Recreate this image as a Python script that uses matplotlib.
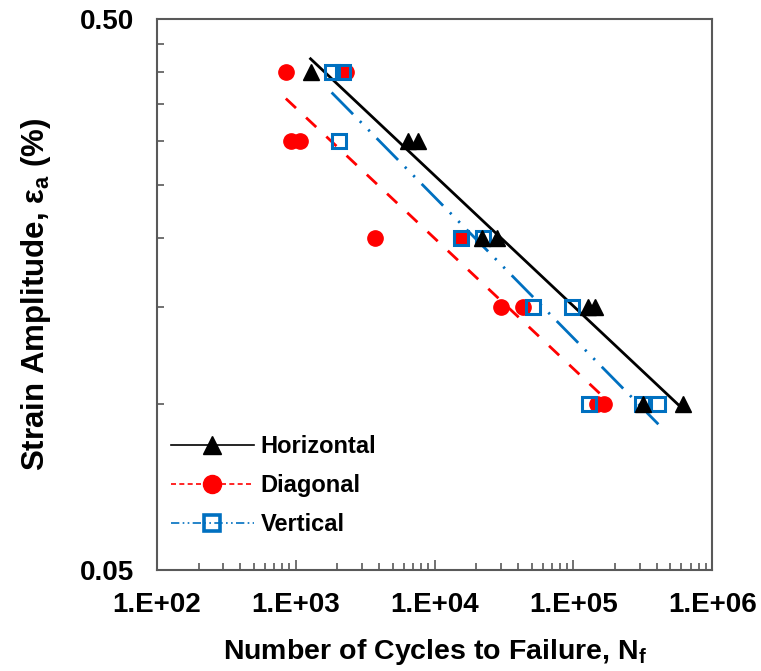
import numpy as np
import matplotlib
matplotlib.use("Agg")
import matplotlib.pyplot as plt
from matplotlib.lines import Line2D
from matplotlib.ticker import FixedLocator, NullFormatter, FuncFormatter

plt.rcParams['font.family'] = ['Liberation Sans', 'DejaVu Sans']
plt.rcParams['font.weight'] = 'bold'

# cycles to failure / strain amplitude (%)
horiz_N = [1280, 6400, 7550, 22100, 28400, 128000, 144000, 319000, 618000]
horiz_e = [0.40, 0.30, 0.30, 0.20, 0.20, 0.15, 0.15, 0.10, 0.10]

diag_N = [850, 2290, 920, 1070, 3700, 15400, 29900, 43700, 149000, 167000]
diag_e = [0.40, 0.40, 0.30, 0.30, 0.20, 0.20, 0.15, 0.15, 0.10, 0.10]

vert_N = [1815, 2180, 2040, 15400, 22500, 51500, 98400, 130000, 314000, 409000]
vert_e = [0.40, 0.40, 0.30, 0.20, 0.20, 0.15, 0.15, 0.10, 0.10, 0.10]

labels = ["Horizontal", "Diagonal", "Vertical"]
x_ticks = [1e2, 1e3, 1e4, 1e5, 1e6]
y_ticks = [0.05, 0.5]


def power_fit(N, e):
    # excel style power trendline y = a*x^b over the data range
    lx, ly = np.log10(N), np.log10(e)
    b, a = np.polyfit(lx, ly, 1)
    xs = np.array([min(N), max(N)])
    return xs, 10 ** (a + b * np.log10(xs))


fig = plt.figure(figsize=(7.61, 6.71), dpi=100)
ax = fig.add_axes([0.206, 0.151, 0.730, 0.821])

red = "#FF0000"
blue = "#0070C0"

# trendlines
xs, ys = power_fit(diag_N, diag_e)
ax.plot(xs, ys, color=red, lw=2.0, dashes=(5, 5), zorder=2)
xs, ys = power_fit(vert_N, vert_e)
ax.plot(xs, ys, color=blue, lw=2.0, dashes=(11, 3.5, 0.8, 3.5, 0.8, 3.5), zorder=2)
xs, ys = power_fit(horiz_N, horiz_e)
ax.plot(xs, ys, color="black", lw=2.0, zorder=2)

# markers
ax.plot(diag_N, diag_e, "o", color=red, ms=11, mec=red, zorder=3)
ax.plot(vert_N, vert_e, "s", mfc="none", mec=blue, mew=2.2, ms=10.5, zorder=4)
ax.plot(horiz_N, horiz_e, "^", color="black", ms=11.5, zorder=5)

ax.set_xscale("log")
ax.set_yscale("log")
ax.set_xlim(1e2, 1e6)
ax.set_ylim(0.05, 0.5)

ax.xaxis.set_major_locator(FixedLocator(x_ticks))
ax.xaxis.set_major_formatter(FuncFormatter(lambda v, p: "1.E+%02d" % round(np.log10(v))))
ax.xaxis.set_minor_locator(FixedLocator([k * 10.0 ** d for d in range(2, 6) for k in range(2, 10)]))
ax.xaxis.set_minor_formatter(NullFormatter())

ax.yaxis.set_major_locator(FixedLocator(y_ticks))
ax.yaxis.set_major_formatter(FuncFormatter(lambda v, p: "%.2f" % v))
ax.yaxis.set_minor_locator(FixedLocator([0.05 * k for k in range(2, 10)]))
ax.yaxis.set_minor_formatter(NullFormatter())

ax.tick_params(which="both", direction="in", colors="#595959", labelcolor="black",
               labelsize=20, top=False, right=False)
ax.tick_params(which="major", length=7, width=1.2, pad=16)
ax.tick_params(which="minor", length=5, width=1.2)
for lab in ax.get_xticklabels() + ax.get_yticklabels():
    lab.set_fontweight("bold")

for s in ax.spines.values():
    s.set_color("#595959")
    s.set_linewidth(1.5)

ax.set_xlabel("Number of Cycles to Failure, N$\\mathregular{_f}$", fontsize=20.5,
              fontweight="bold", labelpad=14)
ax.set_ylabel("Strain Amplitude, \u03b5$\\mathregular{_a}$ (%)", fontsize=22.5,
              fontweight="bold", labelpad=20)

handles = [
    Line2D([], [], color="black", lw=1.2, marker="^", ms=13),
    Line2D([], [], color=red, lw=1.2, dashes=(3, 2), marker="o", ms=13),
    Line2D([], [], color=blue, lw=1.2, dashes=(5, 2, 1, 2, 1, 2), marker="s",
           mfc="none", mec=blue, mew=2.6, ms=12),
]
ax.legend(handles, labels, loc="lower left", bbox_to_anchor=(0.0, 0.035),
          frameon=False, handlelength=3.5, handletextpad=0.3,
          labelspacing=0.68, borderaxespad=0.2,
          prop={"weight": "bold", "size": 17})

fig.savefig("out.png", dpi=100)
